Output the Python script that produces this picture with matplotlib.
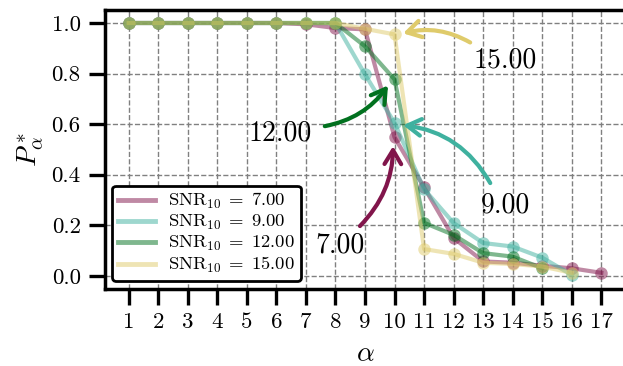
import matplotlib
matplotlib.use("Agg")
import matplotlib.pyplot as plt

# ---------------------------------------------------------------------------
# data
# ---------------------------------------------------------------------------
alpha = list(range(1, 18))
snr_labels = ["7.00", "9.00", "12.00", "15.00"]
colors = ["#81154B", "#3FB19F", "#01711F", "#DFCB6B"]

p_snr7 = [1.0, 1.0, 1.0, 1.0, 1.0, 1.0, 0.995, 0.98, 0.975, 0.548,
          0.35, 0.15, 0.057, 0.052, 0.04, 0.03, 0.012]
p_snr9 = [1.0, 1.0, 1.0, 1.0, 1.0, 1.0, 1.0, 1.0, 0.797, 0.605,
          0.343, 0.209, 0.13, 0.116, 0.072, 0.004]
p_snr12 = [1.0, 1.0, 1.0, 1.0, 1.0, 1.0, 1.0, 1.0, 0.908, 0.777,
           0.21, 0.162, 0.09, 0.076, 0.03]
p_snr15 = [1.0, 1.0, 1.0, 1.0, 1.0, 1.0, 1.0, 1.0, 0.977, 0.955,
           0.106, 0.087, 0.052, 0.047, 0.037, 0.012]
series = [p_snr7, p_snr9, p_snr12, p_snr15]

# annotation: text position, arrow tail, arrow head, curvature
ann_text_pos = [(8.15, 0.122), (13.75, 0.28), (6.12, 0.564), (13.75, 0.852)]
ann_tail = [(8.83, 0.197), (13.24, 0.367), (7.64, 0.592), (12.56, 0.923)]
ann_head = [(9.95, 0.513), (10.29, 0.596), (9.78, 0.753), (10.29, 0.959)]
ann_rad = [0.2, 0.25, 0.2, 0.2]

# ---------------------------------------------------------------------------
plt.rcParams["font.family"] = ["cmr10", "DejaVu Serif"]
plt.rcParams["mathtext.fontset"] = "cm"
plt.rcParams["axes.unicode_minus"] = False

fig = plt.figure(figsize=(6.23, 3.66), dpi=100)
ax = fig.add_axes([0.1685, 0.2117, 0.8347, 0.760])

for vals, lab, c in zip(series, snr_labels, colors):
    x = alpha[:len(vals)]
    ax.plot(x, vals, "-", color=c, alpha=0.5, linewidth=3.0,
            label=r"$\mathrm{SNR}_{10}\;=\;%s$" % lab)
    ax.plot(x, vals, "o", color=c, alpha=0.5, markersize=9,
            markeredgewidth=0)

for lab, c, tp, tail, head, rad in zip(snr_labels, colors, ann_text_pos,
                                       ann_tail, ann_head, ann_rad):
    ax.annotate("", xy=head, xytext=tail,
                arrowprops=dict(arrowstyle="->,head_length=0.5,head_width=0.3",
                                color=c, lw=3, mutation_scale=20,
                                shrinkA=0, shrinkB=0,
                                connectionstyle=f"arc3,rad={rad}"))
    ax.text(tp[0], tp[1], lab, fontsize=20, ha="center", va="center")

ax.set_xlim(0.2, 17.8)
ax.set_ylim(-0.05, 1.05)
ax.set_xticks(alpha)
ax.set_xticklabels([str(a) for a in alpha])
ax.set_yticks([0.0, 0.2, 0.4, 0.6, 0.8, 1.0])
ax.set_yticklabels(["0.0", "0.2", "0.4", "0.6", "0.8", "1.0"])
ax.tick_params(labelsize=16.5, length=11.5, width=2.4, direction="out")
ax.tick_params(axis="y", pad=6)
ax.tick_params(axis="x", pad=6)
ax.grid(True, linestyle="--", color="#808080", linewidth=1)
for s in ax.spines.values():
    s.set_linewidth(2.5)

ax.set_xlabel(r"$\alpha$", fontsize=20, labelpad=6)
ax.set_ylabel(r"$P^*_\alpha$", fontsize=20, labelpad=4)

leg = ax.legend(loc="lower left", fontsize=13.4, framealpha=1,
                edgecolor="black", fancybox=True, handlelength=2.0,
                handletextpad=0.7, borderpad=0.3, labelspacing=0.1,
                borderaxespad=0.4)
leg.get_frame().set_linewidth(2)
for line in leg.get_lines():
    line.set_linewidth(3.5)

fig.savefig("out.png", dpi=100)
